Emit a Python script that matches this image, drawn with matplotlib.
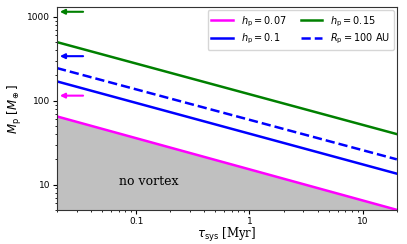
import numpy as np
import matplotlib
matplotlib.use('Agg')
import matplotlib.pyplot as plt

# system age range (Myr)
tau = [0.02, 20.0]
# planet mass thresholds (M_earth) at both ends
m_h007 = [65, 5.0]
m_h01 = [170, 13.5]
m_h015 = [500, 40]
m_r100 = [245, 20]
# arrow markers on left side (mass levels)
arrow_levels = [1150, 340, 115]
arrow_colors = ['green', 'blue', 'magenta']

fig, ax = plt.subplots(figsize=(4.07, 2.44), dpi=100)

ax.fill_between(tau, [1, 1], m_h007, color='#c0c0c0', zorder=0)
ax.plot(tau, m_h007, color='magenta', lw=1.8, label=r'$h_{\rm p}=0.07$')
ax.plot(tau, m_h01, color='blue', lw=1.8, label=r'$h_{\rm p}=0.1$')
ax.plot(tau, m_h015, color='green', lw=1.8, label=r'$h_{\rm p}=0.15$')
ax.plot(tau, m_r100, color='blue', lw=1.8, ls='--', label=r'$R_{\rm p}=100$ AU')

for lev, c in zip(arrow_levels, arrow_colors):
    ax.annotate('', xy=(0.0212, lev), xytext=(0.034, lev),
                arrowprops=dict(arrowstyle='-|>', color=c, lw=1.5,
                                mutation_scale=7, shrinkA=0, shrinkB=0))

ax.text(0.13, 11, 'no vortex', ha='center', va='center', fontsize=9, family='serif')

ax.set_xscale('log')
ax.set_yscale('log')
ax.set_xlim(0.02, 20)
ax.set_ylim(5, 1300)
ax.set_xticks([0.1, 1, 10])
ax.set_xticklabels(['0.1', '1', '10'], fontsize=6.5)
ax.set_yticks([10, 100, 1000])
ax.set_yticklabels(['10', '100', '1000'], fontsize=6.5)
ax.tick_params(which='both', pad=2, length=3)
ax.tick_params(which='minor', length=1.5)
for s in ax.spines.values():
    s.set_color('#333333')
ax.set_xlabel(r'$\tau_{\rm sys}$ [Myr]', fontsize=8.5, family='serif', labelpad=0)
ax.set_ylabel(r'$M_{\rm p}$ [$M_\oplus$]', fontsize=8.5, labelpad=2)
ax.legend(ncol=2, fontsize=7, loc='upper right', handlelength=2.2,
          columnspacing=1.5, borderaxespad=0.3, labelspacing=0.3)

fig.subplots_adjust(left=0.14, right=0.975, top=0.97, bottom=0.14)
fig.savefig('out.png', dpi=100)
